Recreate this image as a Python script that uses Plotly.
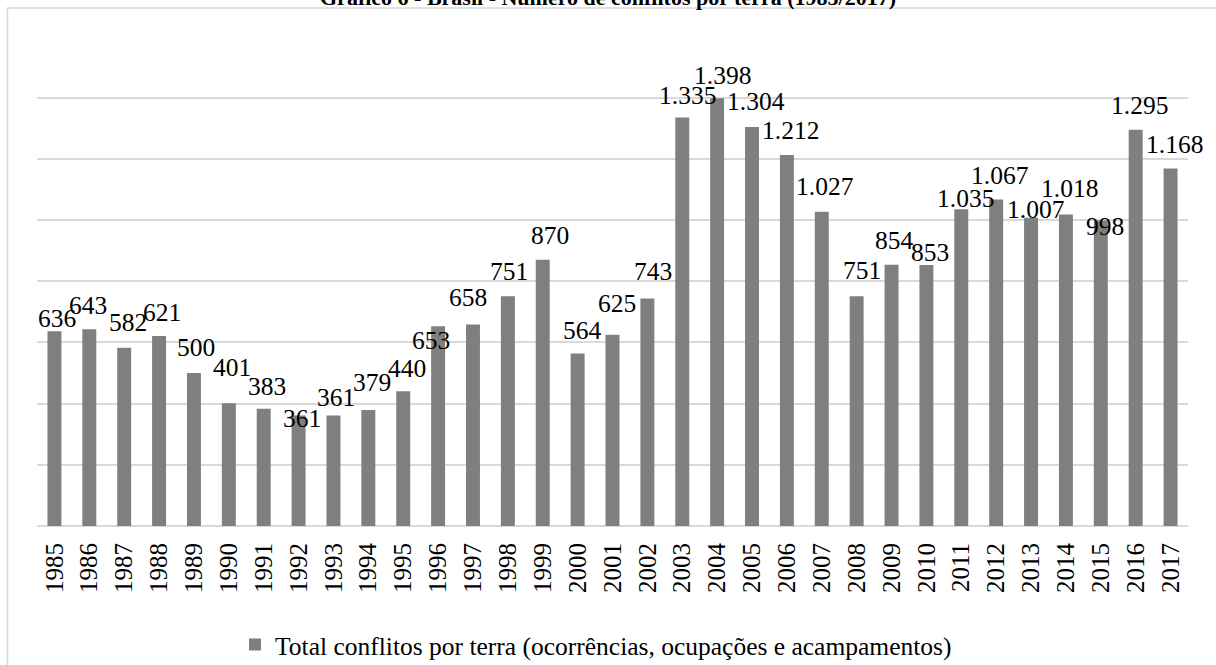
import plotly.graph_objects as go

years = [str(y) for y in range(1985, 2018)]
conflitos = [636, 643, 582, 621, 500, 401, 383, 361, 361, 379, 440, 653, 658, 751, 870,
             564, 625, 743, 1335, 1398, 1304, 1212, 1027, 751, 854, 853, 1035, 1067, 1007,
             1018, 998, 1295, 1168]
series_name = "Total conflitos por terra (ocorrências, ocupações e acampamentos)"
title_text = "Gráfico 6 - Brasil - Número de conflitos por terra (1985/2017)"

# label nudges in pixels (dx right, dy down from bar top to label centre)
label_dx = [3, -1, 4, 3, 2, 3, 3, 3, 3, 4, 4, -7, -5, 1, 7, 5, 4, 6, 5, 5, 4, 4, 3, 5, 3, 4, 4, 4, 5, 4, 4, 4, 4]
label_dy = [-13, -24, -25, -23, -25, -36, -22, 3, -18, -28, -23, 14, -27, -25, -24, -23, -31, -27, -22, -23,
            -25, -25, -25, -26, -24, -12, -11, -24, -8, -26, 6, -24, -24]

W, H = 1216, 665
ML, MR, MT, MB = 37, 28, 36, 139
pw, ph = W - ML - MR, H - MT - MB

def px_x(x):
    return (x - ML) / pw

def px_y(y):
    return (H - MB - y) / ph

FONT = "Times New Roman, Liberation Serif, serif"
GRID = "#d9d9d9"
BAR = "#7f7f7f"

fig = go.Figure()
fig.add_trace(go.Bar(
    x=years, y=conflitos, name=series_name, marker=dict(color=BAR, line=dict(width=0)),
    width=0.4, showlegend=True, hoverinfo="skip",
))

def fmt(v):
    return f"{v:,}".replace(",", ".")

annotations = []
for i, (v, dx, dy) in enumerate(zip(conflitos, label_dx, label_dy)):
    annotations.append(dict(
        x=i, y=v, xref="x", yref="y", text=fmt(v), showarrow=False,
        xanchor="center", yanchor="middle", xshift=dx, yshift=-dy,
        font=dict(family=FONT, size=25.5, color="#000000"),
    ))

annotations.append(dict(
    x=px_x(608), y=px_y(12), xref="paper", yref="paper", text="<b>" + title_text + "</b>",
    showarrow=False, xanchor="center", yanchor="bottom",
    font=dict(family=FONT, size=22, color="#000000"),
))

fig.update_layout(
    width=W, height=H,
    margin=dict(l=ML, r=MR, t=MT, b=MB, pad=0, autoexpand=False),
    paper_bgcolor="#ffffff", plot_bgcolor="#ffffff",
    annotations=annotations,
    showlegend=True,
    legend=dict(orientation="h", x=px_x(235), xanchor="left", y=px_y(645), yanchor="middle",
                font=dict(family=FONT, size=25.5, color="#000000"), bgcolor="rgba(0,0,0,0)"),
    shapes=[dict(type="rect", xref="paper", yref="paper",
                 x0=px_x(7.5), x1=px_x(1240), y0=px_y(690), y1=px_y(8),
                 line=dict(color=GRID, width=1.5), layer="below")],
    xaxis=dict(
        type="category", range=[-0.5, len(years) - 0.5], automargin=False,
        showgrid=False, showline=False, zeroline=False,
        tickangle=-90, ticks="", ticklabelstandoff=11,
        tickfont=dict(family=FONT, size=25, color="#000000"),
    ),
    yaxis=dict(
        range=[0, 1601], dtick=200, tick0=0, showticklabels=False, ticks="", automargin=False,
        showgrid=True, gridcolor=GRID, gridwidth=1.5,
        zeroline=True, zerolinecolor=GRID, zerolinewidth=1.5, showline=False,
    ),
    bargap=0.6,
)

fig.write_html("out.html", config={"displayModeBar": False},
               post_script="document.body.style.margin='0';document.body.style.overflow='hidden';")
